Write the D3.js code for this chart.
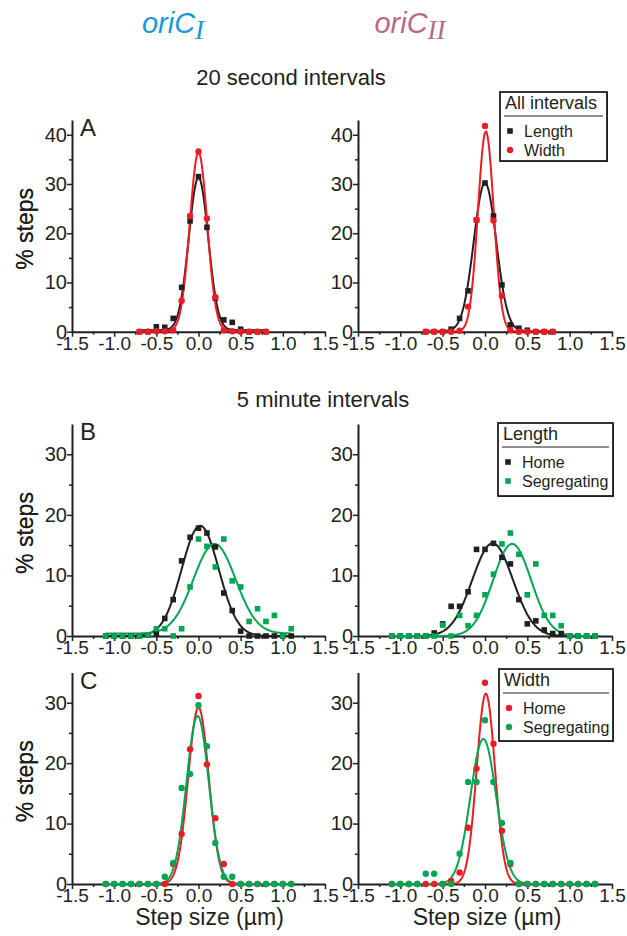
<!DOCTYPE html>
<html>
<head>
<meta charset="utf-8">
<script src="https://cdn.jsdelivr.net/npm/d3@7"></script>
<style>
  body { margin: 0; background: #fff; }
  text { font-family: "Liberation Sans", Arial, sans-serif; fill: #231f20; }
</style>
</head>
<body>
<div id="chart"></div>
<script>
// step bins (µm)
const binsA = [-0.7, -0.6, -0.5, -0.4, -0.3, -0.2, -0.1, 0.0, 0.1, 0.2, 0.3, 0.4, 0.5, 0.6, 0.7, 0.8];
const binsL = [-1.1, -1.0, -0.9, -0.8, -0.7, -0.6, -0.5, -0.4, -0.3, -0.2, -0.1, 0.0, 0.1, 0.2, 0.3, 0.4, 0.5, 0.6, 0.7, 0.8, 0.9, 1.0, 1.1];
const binsR = [-1.1, -1.0, -0.9, -0.8, -0.7, -0.6, -0.5, -0.4, -0.3, -0.2, -0.1, 0.0, 0.1, 0.2, 0.3, 0.4, 0.5, 0.6, 0.7, 0.8, 0.9, 1.0, 1.1, 1.2, 1.3];

// A: 20 second intervals
const aLeftLength  = [0, 0, 1.0, 0.9, 2.7, 9.0, 22.5, 31.5, 21.2, 6.8, 2.4, 1.9, 0.5, 0, 0, 0];
const aLeftWidth   = [0, 0, 0.1, 0.1, 0.3, 6.3, 23.5, 36.6, 23.0, 7.0, 0.3, 0.1, 0, 0, 0, 0];
const aRightLength = [0, 0, 0, 0.5, 2.7, 8.3, 22.7, 30.2, 23.5, 9.5, 1.4, 0.7, 0.3, 0, 0, 0];
const aRightWidth  = [0, 0, 0, 0, 0.2, 5.1, 22.7, 41.8, 22.6, 7.3, 0.3, 0, 0, 0, 0, 0];

// B: 5 minute intervals, length
const bLeftHome  = [0, 0, 0, 0, 0, 0.2, 0.4, 2.9, 6.0, 12.4, 16.3, 17.8, 17.0, 14.7, 7.1, 4.2, 0.8, 0, 0, 0, 0, 0, 0];
const bLeftSeg   = [0, 0, 0, 0, 0, 0.2, 1.2, 1.2, 0, 1.2, 8.1, 16.0, 14.8, 11.4, 16.0, 9.1, 8.1, 2.4, 4.5, 2.4, 3.4, 0, 1.2];
const bRightHome = [0, 0, 0, 0, 0, 0.5, 2.0, 4.9, 4.9, 7.3, 14.3, 14.3, 15.3, 13.0, 11.9, 6.0, 2.0, 2.5, 1.0, 0.4, 0.4, 0, 0, 0, 0];
const bRightSeg  = [0, 0, 0, 0, 0, 0, 1.8, 0, 3.4, 1.7, 3.4, 6.8, 10.2, 15.2, 17.0, 13.5, 6.8, 11.9, 3.4, 3.4, 1.7, 0, 0, 0, 0];

// C: 5 minute intervals, width
const cLeftHome  = [0, 0, 0, 0, 0, 0, 0, 0, 3.3, 8.3, 22.3, 31.1, 19.8, 10.9, 3.3, 0, 0, 0, 0, 0, 0, 0, 0];
const cLeftSeg   = [0, 0, 0, 0, 0, 0, 0, 1.2, 3.5, 15.9, 18.2, 29.6, 22.8, 6.8, 1.2, 1.2, 0, 0, 0, 0, 0, 0, 0];
const cRightHome = [0, 0, 0, 0, 0, 0, 0, 0.5, 1.9, 9.3, 19.1, 33.3, 23.2, 8.8, 3.3, 0, 0, 0, 0, 0, 0, 0, 0, 0, 0];
const cRightSeg  = [0, 0, 0, 0, 1.7, 1.7, 0, 0, 5.0, 16.9, 16.9, 27.1, 16.9, 10.1, 3.5, 0, 0, 0, 0, 0, 0, 0, 0, 0, 0];

// Gaussian fit parameters: amplitude, centre, sigma, baseline
const fitALeftLength  = [31.0, 0.00, 0.115, 0.3];
const fitALeftWidth   = [36.3, 0.00, 0.103, 0.1];
const fitARightLength = [30.1, 0.00, 0.133, 0.1];
const fitARightWidth  = [40.6, 0.01, 0.093, 0.05];
const fitBLeftHome    = [18.2, 0.02, 0.220, 0];
const fitBLeftSeg     = [14.8, 0.19, 0.250, 0.4];
const fitBRightHome   = [15.3, 0.09, 0.240, 0];
const fitBRightSeg    = [15.2, 0.32, 0.225, 0];
const fitCLeftHome    = [29.2, 0.00, 0.122, 0];
const fitCLeftSeg     = [27.8, -0.01, 0.132, 0];
const fitCRightHome   = [31.5, 0.01, 0.108, 0];
const fitCRightSeg    = [24.0, -0.02, 0.152, 0];

const xTicks = [-1.5, -1.0, -0.5, 0.0, 0.5, 1.0, 1.5];
const xMinor = [-1.25, -0.75, -0.25, 0.25, 0.75, 1.25];
const yTicksA = [0, 10, 20, 30, 40];
const yMinorA = [5, 15, 25, 35];
const yTicksBC = [0, 10, 20, 30];
const yMinorBC = [5, 15, 25];

const BLACK = "#231f20", RED = "#ed1c24", GREEN = "#00a651";

const svg = d3.select("#chart").append("svg")
  .attr("width", 627).attr("height", 936);

// column / row geometry
const cols = [[72, 325], [358, 612]];
const rows = [
  {y0: 331.7, top: 120, max: 43, ticks: yTicksA, minor: yMinorA},
  {y0: 636, top: 424, max: 35, ticks: yTicksBC, minor: yMinorBC},
  {y0: 884, top: 672.5, max: 35, ticks: yTicksBC, minor: yMinorBC}
];

const panels = [
  {r: 0, c: 0, letter: "A", series: [
    {x: binsA, y: aLeftLength, fit: fitALeftLength, color: BLACK, shape: "square"},
    {x: binsA, y: aLeftWidth, fit: fitALeftWidth, color: RED, shape: "circle"}]},
  {r: 0, c: 1, series: [
    {x: binsA, y: aRightLength, fit: fitARightLength, color: BLACK, shape: "square"},
    {x: binsA, y: aRightWidth, fit: fitARightWidth, color: RED, shape: "circle"}],
    legend: {title: "All intervals", items: [["Length", BLACK, "square"], ["Width", RED, "circle"]], x: 500, y: 92, w: 107, h: 69}},
  {r: 1, c: 0, letter: "B", series: [
    {x: binsL, y: bLeftHome, fit: fitBLeftHome, color: BLACK, shape: "square"},
    {x: binsL, y: bLeftSeg, fit: fitBLeftSeg, color: GREEN, shape: "square"}]},
  {r: 1, c: 1, series: [
    {x: binsR, y: bRightHome, fit: fitBRightHome, color: BLACK, shape: "square"},
    {x: binsR, y: bRightSeg, fit: fitBRightSeg, color: GREEN, shape: "square"}],
    legend: {title: "Length", items: [["Home", BLACK, "square"], ["Segregating", GREEN, "square"]], x: 498, y: 423, w: 115, h: 73}},
  {r: 2, c: 0, letter: "C", xlabel: true, series: [
    {x: binsL, y: cLeftHome, fit: fitCLeftHome, color: RED, shape: "circle"},
    {x: binsL, y: cLeftSeg, fit: fitCLeftSeg, color: GREEN, shape: "circle"}]},
  {r: 2, c: 1, xlabel: true, series: [
    {x: binsR, y: cRightHome, fit: fitCRightHome, color: RED, shape: "circle"},
    {x: binsR, y: cRightSeg, fit: fitCRightSeg, color: GREEN, shape: "circle"}],
    legend: {title: "Width", items: [["Home", RED, "circle"], ["Segregating", GREEN, "circle"]], x: 499, y: 669, w: 114, h: 72}}
];

const fmt = d => d3.format(".1f")(d).replace("\u2212", "-");

function marker(g, shape, color, cx, cy) {
  if (shape === "square") {
    g.append("rect").attr("x", cx - 2.8).attr("y", cy - 2.8)
      .attr("width", 5.6).attr("height", 5.6).attr("fill", color);
  } else {
    g.append("circle").attr("cx", cx).attr("cy", cy).attr("r", 3.2).attr("fill", color);
  }
}

panels.forEach(p => {
  const row = rows[p.r], col = cols[p.c];
  const x = d3.scaleLinear().domain([-1.5, 1.5]).range(col);
  const y = d3.scaleLinear().domain([0, row.max]).range([row.y0, row.top]);
  const g = svg.append("g");

  // axes
  const xa = g.append("g").attr("transform", `translate(0,${row.y0})`)
    .call(d3.axisBottom(x).tickValues(xTicks).tickFormat(fmt).tickSize(5).tickSizeOuter(0));
  g.append("g").attr("transform", `translate(0,${row.y0})`)
    .call(d3.axisBottom(x).tickValues(xMinor).tickFormat("").tickSize(3).tickSizeOuter(0))
    .select(".domain").remove();
  const ya = g.append("g").attr("transform", `translate(${col[0]},0)`)
    .call(d3.axisLeft(y).tickValues(row.ticks).tickSize(5).tickSizeOuter(0));
  g.append("g").attr("transform", `translate(${col[0]},0)`)
    .call(d3.axisLeft(y).tickValues(row.minor).tickFormat("").tickSize(3).tickSizeOuter(0))
    .select(".domain").remove();
  g.selectAll(".domain").attr("stroke", BLACK).attr("stroke-width", 2);
  g.selectAll(".tick line").attr("stroke", BLACK).attr("stroke-width", 1.5);
  xa.selectAll("text").attr("font-size", 19).attr("dy", "0.71em").attr("y", 5);
  ya.selectAll("text").attr("font-size", 20).attr("x", -5);
  g.selectAll("text").attr("font-family", "Liberation Sans, Arial, sans-serif").attr("fill", BLACK);

  // fit curves
  const line = d3.line().x(d => x(d[0])).y(d => y(d[1]));
  p.series.forEach(s => {
    const [a, mu, sd, b] = s.fit;
    const lo = d3.min(s.x), hi = d3.max(s.x);
    const pts = d3.range(lo, hi + 0.0001, 0.005).map(v => [v, b + a * Math.exp(-((v - mu) ** 2) / (2 * sd * sd))]);
    g.append("path").attr("d", line(pts)).attr("fill", "none")
      .attr("stroke", s.color).attr("stroke-width", 2);
  });
  // points
  p.series.forEach(s => {
    s.x.forEach((v, i) => marker(g, s.shape, s.color, x(v), y(s.y[i])));
  });

  if (p.letter) {
    g.append("text").attr("x", col[0] + 8).attr("y", row.top + 16)
      .attr("font-size", 24).text(p.letter);
  }
  g.append("text").attr("transform", `translate(33,${(row.y0 + row.top) / 2 + 3}) rotate(-90)`)
    .attr("text-anchor", "middle").attr("font-size", 23).text("% steps");
  if (p.xlabel) {
    g.append("text").attr("x", (col[0] + col[1]) / 2 + 11 - (p.c ? 9 : 0)).attr("y", 925)
      .attr("text-anchor", "middle").attr("font-size", 23).text("Step size (\u00b5m)");
  }

  if (p.legend) {
    const L = p.legend;
    const lg = svg.append("g");
    lg.append("rect").attr("x", L.x + 1).attr("y", L.y + 1).attr("width", L.w).attr("height", L.h)
      .attr("fill", BLACK);
    lg.append("rect").attr("x", L.x).attr("y", L.y).attr("width", L.w).attr("height", L.h)
      .attr("fill", "#fff").attr("stroke", BLACK).attr("stroke-width", 1.8);
    lg.append("text").attr("x", L.x + 5).attr("y", L.y + 17).attr("font-size", 18).text(L.title);
    lg.append("line").attr("x1", L.x + 4).attr("x2", L.x + L.w - 4)
      .attr("y1", L.y + 24).attr("y2", L.y + 24).attr("stroke", BLACK).attr("stroke-width", 1.2);
    L.items.forEach((it, i) => {
      const yy = L.y + 39 + i * 19;
      marker(lg, it[2], it[1], L.x + 10, yy);
      lg.append("text").attr("x", L.x + 24).attr("y", yy + 5.5).attr("font-size", 16).text(it[0]);
    });
  }
});

// column headers and section titles
const hdr = [["oriC", "I", 173, "#1a98d5"], ["oriC", "II", 410, "#b8698a"]];
hdr.forEach(h => {
  const t = svg.append("text").attr("x", h[2]).attr("y", 33).attr("text-anchor", "middle")
    .attr("font-size", 29).attr("font-style", "italic").style("fill", h[3]);
  t.append("tspan").text(h[0]);
  t.append("tspan").attr("font-family", "Liberation Serif, serif").attr("font-size", 27)
    .attr("dy", 6).style("fill", h[3]).text(h[1]);
});
svg.append("text").attr("x", 291).attr("y", 85).attr("text-anchor", "middle")
  .attr("font-size", 22).text("20 second intervals");
svg.append("text").attr("x", 323).attr("y", 407).attr("text-anchor", "middle")
  .attr("font-size", 22).text("5 minute intervals");
</script>
</body>
</html>
